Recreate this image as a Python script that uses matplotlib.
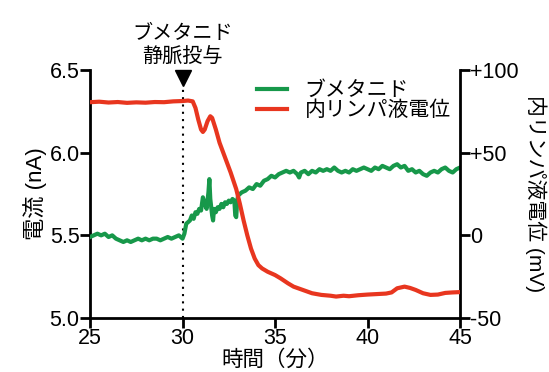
import matplotlib.pyplot as plt

plt.rcParams['font.family'] = ['Liberation Sans', 'Noto Sans CJK JP', 'DejaVu Sans']

# ブメタニド (nA)
t_green = [25.0, 25.2, 25.4, 25.6, 25.8, 26.0, 26.2, 26.4, 26.6, 26.8,
           27.0, 27.2, 27.4, 27.6, 27.8, 28.0, 28.2, 28.4, 28.6, 28.8,
           29.0, 29.2, 29.4, 29.6, 29.8, 30.0, 30.1, 30.2, 30.4, 30.5,
           30.6, 30.7, 30.8, 30.9, 31.0, 31.1, 31.2, 31.3, 31.4, 31.45,
           31.5, 31.6, 31.65, 31.7, 31.8, 31.9, 32.0, 32.1, 32.2, 32.3,
           32.4, 32.5, 32.6, 32.7, 32.8, 32.85, 32.9, 32.95, 33.0, 33.2,
           33.4, 33.6, 33.8, 34.0, 34.2, 34.4, 34.6, 34.8, 35.0, 35.2,
           35.4, 35.6, 35.8, 36.0, 36.2, 36.3, 36.4, 36.6, 36.8, 37.0,
           37.2, 37.4, 37.6, 37.8, 38.0, 38.2, 38.4, 38.6, 38.8, 39.0,
           39.2, 39.4, 39.6, 39.8, 40.0, 40.2, 40.4, 40.6, 40.8, 41.0,
           41.2, 41.4, 41.6, 41.8, 42.0, 42.2, 42.4, 42.6, 42.8, 43.0,
           43.2, 43.4, 43.6, 43.8, 44.0, 44.2, 44.4, 44.6, 44.8, 45.0]
v_green = [5.49, 5.50, 5.51, 5.50, 5.51, 5.49, 5.50, 5.48, 5.47, 5.46,
           5.47, 5.46, 5.47, 5.48, 5.47, 5.48, 5.47, 5.48, 5.48, 5.47,
           5.48, 5.49, 5.48, 5.49, 5.50, 5.48, 5.51, 5.57, 5.59, 5.62,
           5.60, 5.64, 5.63, 5.66, 5.65, 5.73, 5.69, 5.66, 5.76, 5.84,
           5.72, 5.62, 5.59, 5.66, 5.64, 5.67, 5.66, 5.69, 5.67, 5.70,
           5.69, 5.71, 5.70, 5.72, 5.71, 5.62, 5.61, 5.70, 5.74, 5.76,
           5.77, 5.79, 5.78, 5.81, 5.80, 5.83, 5.84, 5.86, 5.85, 5.87,
           5.88, 5.89, 5.88, 5.89, 5.87, 5.85, 5.88, 5.89, 5.87, 5.89,
           5.88, 5.90, 5.89, 5.90, 5.89, 5.91, 5.89, 5.88, 5.89, 5.88,
           5.90, 5.89, 5.90, 5.91, 5.90, 5.89, 5.91, 5.90, 5.92, 5.91,
           5.90, 5.92, 5.93, 5.91, 5.92, 5.89, 5.90, 5.88, 5.89, 5.87,
           5.86, 5.88, 5.89, 5.88, 5.90, 5.91, 5.89, 5.88, 5.90, 5.91]

# 内リンパ液電位 (mV)
t_red = [25.0, 25.5, 26.0, 26.5, 27.0, 27.5, 28.0, 28.5, 29.0, 29.5,
         30.0, 30.3, 30.55, 30.7, 30.85, 31.0, 31.1, 31.2, 31.35, 31.5,
         31.6, 31.8, 32.0, 32.2, 32.4, 32.6, 32.9, 33.1, 33.3, 33.5,
         33.7, 33.9, 34.1, 34.3, 34.6, 35.0, 35.3, 35.7, 36.0, 36.5,
         37.0, 37.5, 38.0, 38.3, 38.7, 39.0, 39.5, 40.0, 40.5, 41.0,
         41.3, 41.6, 42.0, 42.3, 42.6, 43.0, 43.4, 43.8, 44.2, 44.6, 45.0]
v_red = [80.5, 80.8, 80.3, 80.6, 80.1, 80.4, 80.2, 80.6, 80.5, 81.0,
         81.2, 81.5, 81.0, 77, 70, 64, 62.5, 64, 69, 72,
         71, 64, 56, 50, 44, 38, 28, 19, 9, 0,
         -8, -14, -18, -20, -22, -24, -26, -29, -31, -33,
         -35, -36, -36.5, -37, -36.5, -36.8, -36.2, -35.8, -35.5, -35.2,
         -34.5, -32, -31, -31.8, -33, -35, -36, -35.8, -34.8, -34.5, -34.3]

green = '#17984a'
red = '#e8361f'

fig = plt.figure(figsize=(5.49, 3.72), dpi=100)
ax = fig.add_axes([0.164, 0.145, 0.674, 0.667])
ax2 = ax.twinx()

l1, = ax.plot(t_green, v_green, color=green, lw=3, zorder=3)
l2, = ax2.plot(t_red, v_red, color=red, lw=3, zorder=3)

ax.set_xlim(25, 45)
ax.set_ylim(5.0, 6.5)
ax2.set_ylim(-50, 100)
ax.set_xticks([25, 30, 35, 40, 45])
ax.set_yticks([5.0, 5.5, 6.0, 6.5])
ax.set_yticklabels(['5.0', '5.5', '6.0', '6.5'])
ax2.set_yticks([-50, 0, 50, 100])
ax2.set_yticklabels(['-50', '0', '+50', '+100'])

for a in (ax, ax2):
    a.spines['top'].set_visible(False)
    for s in ('left', 'right', 'bottom'):
        a.spines[s].set_linewidth(2)
    a.tick_params(direction='out', length=7, width=2, labelsize=15.5, pad=0.5)
ax.spines['right'].set_visible(False)
ax2.spines['left'].set_visible(False)
ax2.spines['bottom'].set_visible(False)

# 投与タイミング
ax.plot([30, 30], [5.0, 6.42], color='black', lw=1.5, ls=(0, (1, 2.5)), zorder=2)
ax.plot([30], [6.45], marker='v', color='black', markersize=11, clip_on=False, zorder=4)
ax.text(30, 6.52, 'ブメタニド\n静脈投与', ha='center', va='bottom', fontsize=14.5,
        linespacing=1.3)

ax.set_xlabel('時間（分）', fontsize=15.5, labelpad=0)
ax.set_ylabel('電流 (nA)', fontsize=16, labelpad=2)
ax2.set_ylabel('内リンパ液電位 (mV)', fontsize=15, rotation=270, labelpad=20)

ax2.legend([l1, l2], ['ブメタニド', '内リンパ液電位'], loc='upper left',
           bbox_to_anchor=(0.40, 1.03), frameon=False, fontsize=15,
           handlelength=1.45, handletextpad=0.85, labelspacing=0.0)

fig.savefig('out.png', dpi=100)
